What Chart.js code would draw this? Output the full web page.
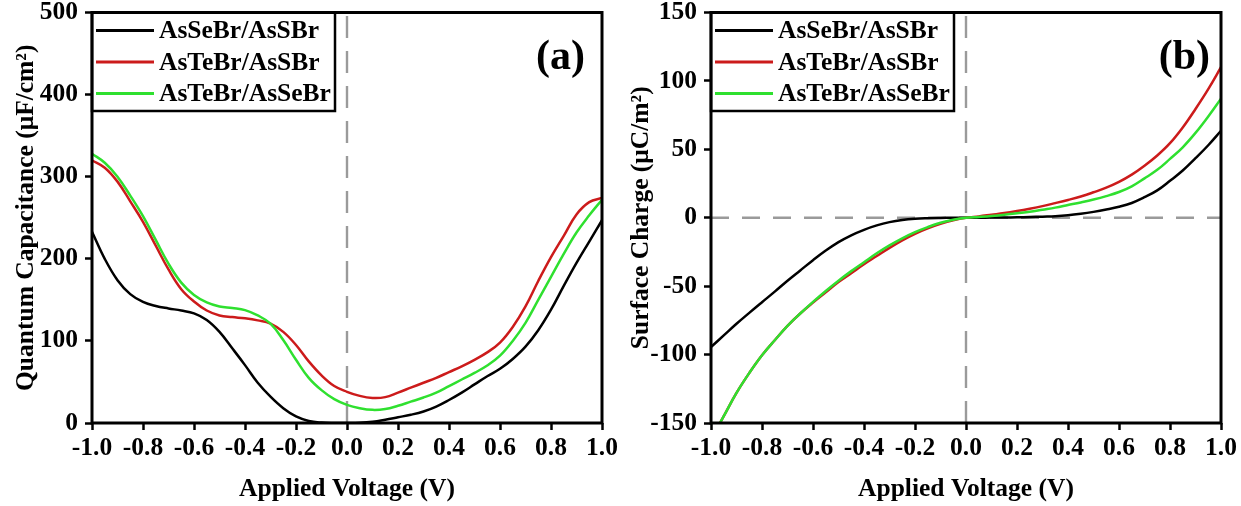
<!DOCTYPE html>
<html><head><meta charset="utf-8">
<script src="https://cdn.jsdelivr.net/npm/chart.js@4.4.1/dist/chart.umd.min.js"></script>
<style>
html,body{margin:0;padding:0;background:#fff;}
body{width:1241px;height:506px;overflow:hidden;position:relative;}
.box{position:absolute;top:0;height:506px;}
#wa{left:0;width:620px;}
#wb{left:620px;width:621px;}
</style></head><body>
<div class="box" id="wa"><canvas id="ca" width="620" height="506"></canvas></div>
<div class="box" id="wb"><canvas id="cb" width="621" height="506"></canvas></div>
<script>
// ---------- data ----------
const seriesNames = ['AsSeBr/AsSBr', 'AsTeBr/AsSBr', 'AsTeBr/AsSeBr'];
const seriesColors = ['#000000', '#cc1b1b', '#2fe02f'];

const voltage = [-1.0,-0.95,-0.9,-0.85,-0.8,-0.75,-0.7,-0.65,-0.6,-0.55,-0.5,-0.45,-0.4,-0.35,-0.3,-0.25,-0.2,-0.15,-0.1,-0.05,0,
  0.05,0.1,0.15,0.2,0.25,0.3,0.35,0.4,0.45,0.5,0.55,0.6,0.65,0.7,0.75,0.8,0.85,0.9,0.95,1.0];

// (a) Quantum capacitance (uF/cm^2)
const capSeS = [233,200,174,157,147.5,142.5,139.5,137,133.5,125.5,111,91,70.5,49,32,18,8,2.5,0.5,0,0,
  0.3,1.5,4,7,10,14,20,28,37,47,57,66,78,93,113,138,167,195,221,247];
const capTeS = [320,311,294,270,245,216,187,163,148,137,131,129,127.5,125,121,111,95,75,58,45,38,
  33,30.5,31.5,37,43,49,55,62,69,77,86,98,117,142,173,202,228,254,269,274];
const capTeSe = [328,317,300,277,252,223,194,171,156,147,142,140,137.5,131,121,101,77,55,40,29,22,
  18,16,17,21,26,31,37,45,53,61,70,82,100,122,150,178,206,232,253,272];

// (b) Surface charge (uC/m^2)
const chgSeS = [-94.5,-86,-77.5,-69.5,-61.7,-54,-46,-38.5,-31,-24,-17.8,-12.8,-8.8,-5.6,-3.2,-1.6,-0.7,-0.3,-0.1,0,0,
  0,0.1,0.2,0.3,0.5,0.8,1.1,1.8,2.9,4.3,6,8,10.8,15,20,27,34.5,43.5,53,63.6];
const chgTeS = [-162,-145,-128,-113.5,-100.5,-89.5,-79,-70,-62,-54.5,-47,-40.5,-34,-28,-22,-16.5,-11.7,-7.7,-4.4,-1.8,0,
  1,2.2,3.4,4.9,6.6,8.5,10.7,13,15.5,18.6,22,26.2,31.5,38,45.5,54.5,66,79.5,94,110];
const chgTeSe = [-162,-145,-128,-113.5,-100.5,-89.5,-79,-70,-61.5,-53.5,-46,-39,-32.5,-26,-20.2,-15,-10.5,-6.8,-3.7,-1.5,0,
  0.6,1.3,2.2,3.3,4.4,5.9,7.4,9.3,11.2,13.3,15.8,18.8,23,28.8,35,43,51.5,62,74,87];

const xTicks = [-1.0,-0.8,-0.6,-0.4,-0.2,0.0,0.2,0.4,0.6,0.8,1.0];
const yTicksA = [0,100,200,300,400,500];
const yTicksB = [-150,-100,-50,0,50,100,150];

// reference (dashed) lines
const refVertA = {x:[0,0], y:[0,500]};
const refVertB = {x:[0,0], y:[-150,150]};
const refHorzB = {x:[-1,1], y:[0,0]};

// ---------- helpers ----------
const FAM = "'Liberation Serif','Times New Roman',serif";
const FS = 25.5;
Chart.defaults.font.family = FAM;
Chart.defaults.font.weight = 'bold';
Chart.defaults.color = '#000';

const toPts = (xs, ys) => xs.map((x, i) => ({x: x, y: ys[i]}));

function curve(i, ys, ord) {
  return {label: seriesNames[i], data: toPts(voltage, ys), borderColor: seriesColors[i],
    backgroundColor: seriesColors[i], borderWidth: 2.5, pointRadius: 0, tension: 0.4,
    fill: false, order: ord};
}
function ref(r, dash) {
  return {label: '_ref', data: toPts(r.x, r.y), borderColor: '#9a9a9a', borderWidth: 2.4,
    borderDash: dash, pointRadius: 0, fill: false, order: 10};
}
const fmtX = v => (Math.abs(v) < 1e-9 ? 0 : v).toFixed(1);

function framePlugin(tag, legendRight, tagOff) {
  return {
    id: 'frame' + tag,
    afterDraw(chart) {
      const {ctx, chartArea: a} = chart;
      ctx.save();
      ctx.strokeStyle = '#000';
      ctx.lineWidth = 3;
      ctx.strokeRect(a.left, a.top, a.right - a.left, a.bottom - a.top);
      // legend box
      ctx.lineWidth = 2.5;
      ctx.strokeRect(a.left, a.top, legendRight - a.left, 98.5);
      ctx.font = 'bold ' + FS + 'px ' + FAM;
      ctx.textBaseline = 'middle';
      ctx.textAlign = 'left';
      const rows = [a.top + 18, a.top + 49.5, a.top + 81];
      seriesNames.forEach((n, i) => {
        ctx.strokeStyle = seriesColors[i];
        ctx.lineWidth = 3;
        ctx.beginPath();
        ctx.moveTo(a.left + 4, rows[i]);
        ctx.lineTo(a.left + 62, rows[i]);
        ctx.stroke();
        ctx.fillStyle = '#000';
        ctx.fillText(n, a.left + 67, rows[i] + 1);
      });
      // panel tag
      ctx.font = 'bold 42px ' + FAM;
      ctx.textAlign = 'right';
      ctx.fillText(tag, a.right - tagOff, a.top + 46);
      ctx.restore();
    }
  };
}

function makeChart(canvasId, datasets, yTicks, yMin, yMax, yTitle, yWidth, padRight, tag, legendW, tagOff, titlePad) {
  return new Chart(document.getElementById(canvasId), {
    type: 'line',
    data: {datasets: datasets},
    options: {
      responsive: false, animation: false, devicePixelRatio: 1,
      layout: {padding: {top: 12.5, right: padRight, bottom: 0, left: 0}},
      plugins: {legend: {display: false}, tooltip: {enabled: false}},
      scales: {
        x: {
          type: 'linear', min: -1, max: 1,
          afterBuildTicks: s => { s.ticks = xTicks.map(v => ({value: v})); },
          afterFit: s => { s.height = 83; s.paddingLeft = 0; s.paddingRight = 0; },
          ticks: {callback: v => fmtX(v), padding: 3, autoSkip: false, maxRotation: 0,
            font: {size: FS, weight: 'bold'}, color: '#000'},
          grid: {display: true, drawOnChartArea: false, drawTicks: true, tickLength: 7,
            tickWidth: 2.5, tickColor: '#000'},
          border: {display: false},
          title: {display: true, text: 'Applied Voltage (V)', color: '#000',
            font: {size: FS, weight: 'bold'}, padding: {top: 0, bottom: 1}}
        },
        y: {
          type: 'linear', min: yMin, max: yMax,
          afterBuildTicks: s => { s.ticks = yTicks.map(v => ({value: v})); },
          afterFit: s => { s.width = yWidth; s.paddingTop = 0; s.paddingBottom = 0; },
          ticks: {padding: 7, autoSkip: false, font: {size: FS, weight: 'bold'}, color: '#000'},
          grid: {display: true, drawOnChartArea: false, drawTicks: true, tickLength: 7,
            tickWidth: 2.5, tickColor: '#000'},
          border: {display: false},
          title: {display: true, text: yTitle, color: '#000',
            font: {size: FS, weight: 'bold'}, padding: {top: titlePad, bottom: 0}}
        }
      }
    },
    plugins: [framePlugin(tag, legendW, tagOff)]
  });
}

makeChart('ca', [
  curve(2, capTeSe, 0), curve(1, capTeS, 1), curve(0, capSeS, 2), ref(refVertA, [22, 13])
], yTicksA, 0, 500, 'Quantum Capacitance (\u03BCF/cm\u00B2)', 92, 18, '(a)', 335, 17, 11);

makeChart('cb', [
  curve(2, chgTeSe, 0), curve(1, chgTeS, 1), curve(0, chgSeS, 2),
  ref(refVertB, [22, 13]), ref(refHorzB, [18, 13])
], yTicksB, -150, 150, 'Surface Charge (\u03BCC/m\u00B2)', 91, 20, '(b)', 334, 11, 6);
</script>
</body></html>
